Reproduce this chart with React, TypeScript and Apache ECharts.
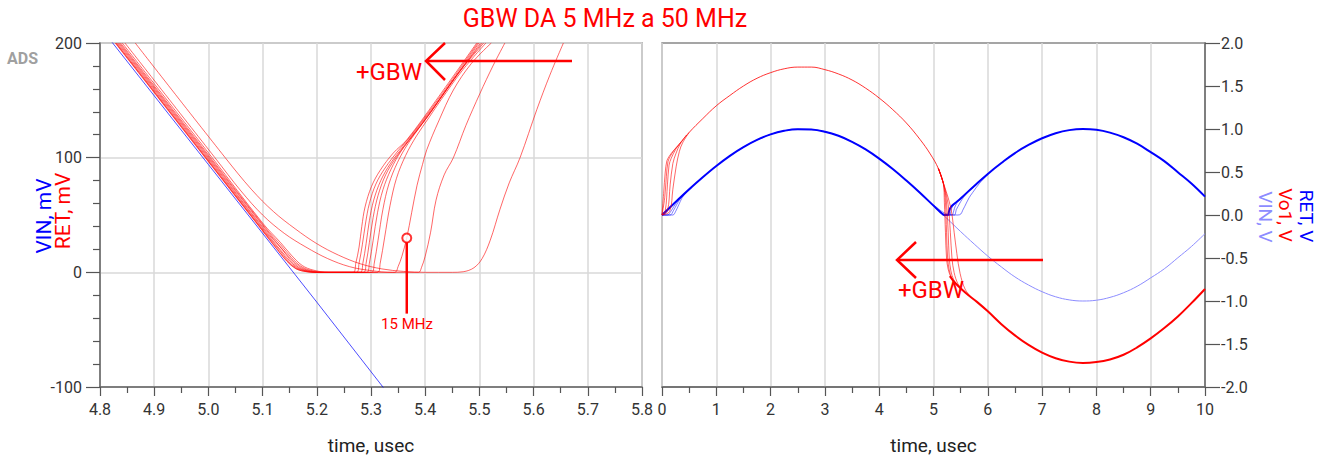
import React, { useEffect, useRef } from 'react';
import * as echarts from 'echarts';

// ---------- Left panel (time in usec, values in mV) ----------
const leftXTicks = { min: 4.8, max: 5.8, step: 0.1 };
const leftYTicks = { min: -100, max: 200, step: 100 };

const vinLeftMv: number[][] = [[4.8, 214], [5.0, 94], [5.2, -26], [5.35, -117]];

const ret50MHz: number[][] = [[4.828,200],[4.994,100],[5.10,36],[5.13,18],[5.145,9.5],[5.16,3.5],[5.175,1],[5.195,0],[5.267,0],[5.272,8],[5.278,22],[5.283,40],[5.289,57],[5.301,75],[5.317,89],[5.341,104],[5.366,115.5],[5.42,150],[5.495,200]];
const ret45MHz: number[][] = [[4.829,200],[4.995,100],[5.101,36],[5.131,18],[5.146,9.5],[5.161,3.5],[5.176,1],[5.197,0],[5.273,0],[5.278,8],[5.284,24],[5.290,43],[5.297,60],[5.309,77],[5.326,91],[5.350,106],[5.375,120],[5.43,155],[5.497,200]];
const ret40MHz: number[][] = [[4.830,200],[4.996,100],[5.102,36],[5.132,19],[5.147,10],[5.162,4],[5.178,1.2],[5.2,0],[5.280,0],[5.285,8],[5.291,25],[5.297,45],[5.305,63],[5.318,80],[5.336,95],[5.360,110],[5.385,125],[5.44,160],[5.499,200]];
const ret35MHz: number[][] = [[4.832,200],[4.998,100],[5.104,36],[5.134,19],[5.149,10.5],[5.164,4.2],[5.18,1.3],[5.203,0],[5.286,0],[5.291,8],[5.297,26],[5.304,48],[5.313,67],[5.327,85],[5.346,100],[5.370,115],[5.395,130],[5.45,166],[5.502,200]];
const ret30MHz: number[][] = [[4.834,200],[5.0,100],[5.106,36],[5.136,20],[5.151,11],[5.166,4.5],[5.182,1.4],[5.206,0],[5.292,0],[5.297,8],[5.304,28],[5.312,52],[5.322,72],[5.337,90],[5.356,106],[5.380,121],[5.405,136],[5.455,170],[5.505,200]];
const ret25MHz: number[][] = [[4.836,200],[5.002,100],[5.105,38],[5.135,21],[5.152,12],[5.168,5],[5.185,1.6],[5.21,0],[5.301,0],[5.306,8],[5.313,28],[5.322,55],[5.333,77],[5.349,96],[5.368,112],[5.392,128],[5.415,143],[5.46,173],[5.508,200]];
const ret20MHz: number[][] = [[4.838,200],[5.004,100],[5.105,39],[5.135,23],[5.153,13],[5.17,5.5],[5.188,1.8],[5.215,0],[5.312,0],[5.317,8],[5.325,30],[5.335,58],[5.347,82],[5.364,102],[5.384,119],[5.407,135],[5.43,151],[5.47,177],[5.512,200]];
const ret15MHz: number[][] = [[4.841,200],[5.007,100],[5.10,43],[5.133,26],[5.153,15],[5.173,6],[5.193,2],[5.222,0],[5.344,0],[5.350,5],[5.357,14],[5.366,30],[5.375,52],[5.385,76],[5.395,94],[5.403,107],[5.425,132],[5.452,159],[5.485,182],[5.522,200]];
const ret10MHz: number[][] = [[4.846,200],[5.012,100],[5.06,71],[5.10,50],[5.14,34],[5.18,22],[5.22,12],[5.26,5],[5.30,1.5],[5.34,0],[5.388,0],[5.393,4],[5.400,14],[5.410,35],[5.420,63],[5.435,85],[5.452,100],[5.475,128],[5.501,156],[5.525,180],[5.547,200]];
const ret5MHz: number[][] = [[4.865,200],[5.031,100],[5.08,72],[5.12,53],[5.16,38],[5.20,25],[5.24,15],[5.28,7.5],[5.32,3],[5.36,0.8],[5.40,0],[5.45,0],[5.47,0.5],[5.49,4],[5.505,12],[5.52,28],[5.538,55],[5.555,78],[5.575,100],[5.606,142],[5.63,172],[5.655,200]];
const retLeftCurves = [ret50MHz, ret45MHz, ret40MHz, ret35MHz, ret30MHz, ret25MHz, ret20MHz, ret15MHz, ret10MHz, ret5MHz];

const marker15MHz: number[] = [5.366, 30];
const marker15MHzStem: number[][] = [[5.366, 26.5], [5.366, -36]];

// ---------- Right panel (time in usec, values in V) ----------
const rightXTicks = { min: 0, max: 10, step: 1 };
const rightYTicks = { min: -2, max: 2, step: 0.5 };

const vinV: number[][] = [[0,0],[0.25,0.151],[0.5,0.299],[0.75,0.439],[1,0.57],[1.25,0.688],[1.5,0.789],[1.75,0.873],[2,0.937],[2.25,0.979],[2.5,0.998],[2.75,0.995],[3,0.969],[3.25,0.921],[3.5,0.851],[3.75,0.763],[4,0.656],[4.25,0.535],[4.5,0.401],[4.75,0.259],[5,0.109],[5.18,0],[5.25,-0.042],[5.5,-0.193],[5.75,-0.338],[6,-0.478],[6.25,-0.604],[6.5,-0.72],[6.75,-0.814],[7,-0.892],[7.25,-0.951],[7.5,-0.987],[7.75,-1.0],[8,-0.991],[8.25,-0.958],[8.5,-0.904],[8.75,-0.829],[9,-0.731],[9.25,-0.626],[9.5,-0.497],[9.75,-0.366],[10,-0.217]];

const retMain: number[][] = [[0,0],[0.25,0.151],[0.5,0.299],[0.75,0.439],[1,0.57],[1.25,0.688],[1.5,0.789],[1.75,0.873],[2,0.937],[2.25,0.979],[2.5,0.998],[2.75,0.995],[3,0.969],[3.25,0.921],[3.5,0.851],[3.75,0.763],[4,0.656],[4.25,0.535],[4.5,0.401],[4.75,0.259],[5,0.109],[5.1,0.05],[5.15,0.02],[5.2,0],[5.265,0],[5.29,0.055],[5.33,0.10],[5.4,0.14],[5.5,0.193],[5.75,0.338],[6,0.478],[6.25,0.604],[6.5,0.72],[6.75,0.814],[7,0.892],[7.25,0.951],[7.5,0.987],[7.75,1.0],[8,0.991],[8.25,0.958],[8.5,0.904],[8.75,0.829],[9,0.731],[9.25,0.626],[9.5,0.497],[9.75,0.366],[10,0.214]];
const retStartA: number[][] = [[0,0],[0.05,0.01],[0.12,0.06],[0.25,0.15],[0.4,0.24],[0.5,0.3]];
const retStartB: number[][] = [[0,0],[0.1,0],[0.16,0.04],[0.22,0.1],[0.3,0.17],[0.4,0.23],[0.5,0.295]];
const retStartC: number[][] = [[0,0],[0.15,0],[0.21,0.05],[0.27,0.12],[0.34,0.19],[0.45,0.26],[0.55,0.32]];
const retStartD: number[][] = [[0,0],[0.2,0],[0.25,0.04],[0.31,0.12],[0.37,0.2],[0.45,0.26],[0.55,0.32]];
const retDipA: number[][] = [[5.0,0.11],[5.15,0.02],[5.22,0],[5.30,0],[5.322,0.055],[5.349,0.096],[5.392,0.128],[5.46,0.173],[5.508,0.2],[5.6,0.25],[6,0.48]];
const retDipB: number[][] = [[5.0,0.11],[5.15,0.02],[5.25,0],[5.344,0],[5.366,0.03],[5.385,0.076],[5.403,0.107],[5.452,0.159],[5.522,0.2],[5.6,0.25],[5.75,0.34],[6,0.48]];
const retDipC: number[][] = [[5.0,0.11],[5.15,0.02],[5.3,0],[5.388,0],[5.41,0.035],[5.42,0.063],[5.452,0.10],[5.501,0.156],[5.547,0.2],[5.65,0.275],[5.8,0.36],[6,0.48]];
const retDipD: number[][] = [[5.0,0.12],[5.17,0.035],[5.3,0.004],[5.45,0],[5.505,0.012],[5.538,0.055],[5.575,0.10],[5.655,0.2],[5.72,0.26],[5.85,0.37],[6,0.47]];

const vo1Upper: number[][] = [[0.3,0.81],[0.5,0.96],[0.75,1.12],[1,1.27],[1.25,1.39],[1.5,1.5],[1.75,1.59],[2,1.655],[2.25,1.70],[2.5,1.72],[2.75,1.72],[3,1.69],[3.25,1.64],[3.5,1.57],[3.75,1.475],[4,1.36],[4.25,1.225],[4.5,1.07],[4.75,0.88],[4.94,0.71],[5.09,0.54],[5.18,0.37]];
const vo1Lower: number[][] = [[5.3,-0.71],[5.4,-0.79],[5.6,-0.91],[5.8,-1.01],[6.0,-1.12],[6.25,-1.27],[6.5,-1.40],[6.75,-1.51],[7.0,-1.6],[7.25,-1.665],[7.5,-1.705],[7.75,-1.72],[8.0,-1.71],[8.25,-1.68],[8.5,-1.625],[8.75,-1.54],[9.0,-1.435],[9.25,-1.315],[9.5,-1.18],[9.75,-1.025],[10,-0.86]];
const vo1StartA: number[][] = [[0,0],[0.03,0.25],[0.06,0.5],[0.09,0.63],[0.13,0.68],[0.2,0.74],[0.3,0.81]];
const vo1StartB: number[][] = [[0,0],[0.05,0.2],[0.08,0.45],[0.11,0.62],[0.15,0.68],[0.22,0.75],[0.3,0.81]];
const vo1StartC: number[][] = [[0,0],[0.06,0.05],[0.1,0.35],[0.13,0.58],[0.17,0.66],[0.25,0.76],[0.35,0.85]];
const vo1StartD: number[][] = [[0,0],[0.1,0.05],[0.15,0.35],[0.2,0.6],[0.26,0.72],[0.33,0.82],[0.45,0.93]];
const vo1StartE: number[][] = [[0,0],[0.14,0.04],[0.2,0.3],[0.26,0.56],[0.32,0.74],[0.38,0.84],[0.5,0.96]];
const vo1DropA: number[][] = [[5.09,0.54],[5.18,0.37],[5.2,0.15],[5.22,-0.2],[5.24,-0.5],[5.27,-0.63],[5.32,-0.72],[5.4,-0.79]];
const vo1DropB: number[][] = [[5.09,0.54],[5.18,0.37],[5.22,0.15],[5.24,-0.2],[5.26,-0.5],[5.29,-0.64],[5.34,-0.74],[5.42,-0.81]];
const vo1DropC: number[][] = [[5.09,0.54],[5.19,0.35],[5.24,0.14],[5.27,-0.2],[5.29,-0.5],[5.32,-0.65],[5.37,-0.75],[5.45,-0.83]];
const vo1DropD: number[][] = [[5.09,0.54],[5.2,0.33],[5.27,0.12],[5.31,-0.2],[5.34,-0.5],[5.38,-0.67],[5.45,-0.8],[5.55,-0.88]];
const vo1DropE: number[][] = [[5.09,0.54],[5.21,0.32],[5.32,0.08],[5.38,-0.2],[5.43,-0.45],[5.49,-0.68],[5.58,-0.86],[5.7,-0.96]];

// ---------- Texts ----------
const titleText = 'GBW DA 5 MHz a 50 MHz';
const xName = 'time, usec';

const FONT = 'Roboto';
const RED = '#ff0000';
const BLUE = '#0000ff';
const LIGHT = '#8c8cff';

function lineSeries(data: number[][], axis: number, color: string, width: number, z = 2, smooth = 0.35) {
  return {
    type: 'line', xAxisIndex: axis, yAxisIndex: axis, data,
    showSymbol: false, symbol: 'none', smooth, silent: true, clip: true, z,
    lineStyle: { color, width }, itemStyle: { color },
  };
}

function xAxisCfg(grid: number, t: { min: number; max: number; step: number }, fmt: (v: number) => string) {
  return {
    type: 'value', gridIndex: grid, min: t.min, max: t.max, interval: t.step,
    name: xName, nameLocation: 'middle', nameGap: 49,
    nameTextStyle: { fontSize: 19, color: '#222', fontFamily: FONT },
    axisLine: { show: true, onZero: false, lineStyle: { color: '#666', width: 1.5 } },
    axisTick: { show: true, length: 9, lineStyle: { color: '#555', width: 1.2 } },
    minorTick: { show: true, splitNumber: 2, length: 6, lineStyle: { color: '#555', width: 1.2 } },
    splitLine: { show: true, lineStyle: { color: '#d9d9d9', width: 1.5 } },
    axisLabel: { fontSize: 16, color: '#333', margin: 14, fontFamily: FONT, formatter: fmt, showMinLabel: true, showMaxLabel: true },
  };
}

export default function App() {
  const ref = useRef<HTMLDivElement>(null);
  useEffect(() => {
    const chart = echarts.init(ref.current as HTMLDivElement, null, { renderer: 'svg' });
    const leftSeries = retLeftCurves.map((c) => lineSeries(c, 0, 'rgba(255,0,0,0.6)', 1, 3, 0.35));
    const dim = 'rgba(0,0,255,0.5)';
    const dimRed = 'rgba(255,0,0,0.6)';
    const option: any = {
      animation: false,
      backgroundColor: '#ffffff',
      textStyle: { fontFamily: FONT },
      grid: [
        { left: 100, top: 43, width: 542, height: 344, show: true, borderColor: '#888', borderWidth: 1.5 },
        { left: 662, top: 43, width: 543, height: 344, show: true, borderColor: '#888', borderWidth: 1.5 },
      ],
      xAxis: [
        xAxisCfg(0, leftXTicks, (v: number) => v.toFixed(1)),
        xAxisCfg(1, rightXTicks, (v: number) => String(Math.round(v))),
      ],
      yAxis: [
        {
          type: 'value', gridIndex: 0, min: leftYTicks.min, max: leftYTicks.max, interval: leftYTicks.step,
          axisLine: { show: true, onZero: false, lineStyle: { color: '#666', width: 1.5 } },
          axisTick: { show: true, length: 14, lineStyle: { color: '#555', width: 1.2 } },
          minorTick: { show: true, splitNumber: 5, length: 7, lineStyle: { color: '#555', width: 1.2 } },
          splitLine: { show: true, lineStyle: { color: '#d9d9d9', width: 1.5 } },
          axisLabel: { fontSize: 16, color: '#333', margin: 18, fontFamily: FONT },
        },
        {
          type: 'value', gridIndex: 1, position: 'right', min: rightYTicks.min, max: rightYTicks.max, interval: rightYTicks.step,
          axisLine: { show: true, onZero: false, lineStyle: { color: '#666', width: 1.5 } },
          axisTick: { show: true, length: 15, lineStyle: { color: '#555', width: 1.2 } },
          splitLine: { show: false },
          axisLabel: { fontSize: 16, color: '#333', margin: 16, fontFamily: FONT, formatter: (v: number) => v.toFixed(1) },
        },
      ],
      series: [
        lineSeries(vinLeftMv, 0, 'rgba(0,0,255,0.7)', 1, 2, 0),
        ...leftSeries,
        {
          type: 'line', xAxisIndex: 0, yAxisIndex: 0, data: marker15MHzStem, showSymbol: false, symbol: 'none',
          lineStyle: { color: RED, width: 2.5 }, silent: true, clip: false, z: 5,
        },
        {
          type: 'scatter', xAxisIndex: 0, yAxisIndex: 0, data: [marker15MHz], symbol: 'circle', symbolSize: 9,
          itemStyle: { color: '#ffffff', borderColor: RED, borderWidth: 2 }, silent: true, z: 6,
        },
        // right panel
        lineSeries(vinV, 1, LIGHT, 1, 2, 0.4),
        lineSeries(retStartA, 1, dim, 1, 3),
        lineSeries(retStartB, 1, dim, 1, 3),
        lineSeries(retStartC, 1, dim, 1, 3),
        lineSeries(retStartD, 1, dim, 1, 3),
        lineSeries(retDipA, 1, dim, 1, 3),
        lineSeries(retDipB, 1, dim, 1, 3),
        lineSeries(retDipC, 1, dim, 1, 3),
        lineSeries(retDipD, 1, dim, 1, 3),
        lineSeries(retMain, 1, BLUE, 2, 4, 0.4),
        lineSeries(vo1Upper, 1, 'rgba(255,0,0,0.8)', 1, 5, 0.4),
        lineSeries(vo1Lower, 1, RED, 2, 5, 0.4),
        lineSeries(vo1StartA, 1, dimRed, 1, 5),
        lineSeries(vo1StartB, 1, dimRed, 1, 5),
        lineSeries(vo1StartC, 1, dimRed, 1, 5),
        lineSeries(vo1StartD, 1, dimRed, 1, 5),
        lineSeries(vo1StartE, 1, dimRed, 1, 5),
        lineSeries(vo1DropA, 1, dimRed, 1, 5),
        lineSeries(vo1DropB, 1, dimRed, 1, 5),
        lineSeries(vo1DropC, 1, dimRed, 1, 5),
        lineSeries(vo1DropD, 1, dimRed, 1, 5),
        lineSeries(vo1DropE, 1, dimRed, 1, 5),
      ],
      graphic: [
        { type: 'text', x: 605, y: 18, z: 10, style: { text: titleText, fill: RED, fontSize: 25, fontFamily: FONT, align: 'center', verticalAlign: 'middle' } },
        { type: 'text', x: 7, y: 58, z: 10, style: { text: 'ADS', fill: '#a0a0a0', fontSize: 16, fontWeight: 'bold', fontFamily: FONT, verticalAlign: 'middle' } },
        { type: 'text', x: 44, y: 216, rotation: Math.PI / 2, z: 10, style: { text: 'VIN, mV', fill: BLUE, fontSize: 21, fontFamily: FONT, align: 'center', verticalAlign: 'middle' } },
        { type: 'text', x: 63, y: 211, rotation: Math.PI / 2, z: 10, style: { text: 'RET, mV', fill: RED, fontSize: 21, fontFamily: FONT, align: 'center', verticalAlign: 'middle' } },
        { type: 'text', x: 1306, y: 216, rotation: -Math.PI / 2, z: 10, style: { text: 'RET, V', fill: BLUE, fontSize: 19, fontFamily: FONT, align: 'center', verticalAlign: 'middle' } },
        { type: 'text', x: 1285, y: 215, rotation: -Math.PI / 2, z: 10, style: { text: 'Vo1, V', fill: RED, fontSize: 19, fontFamily: FONT, align: 'center', verticalAlign: 'middle' } },
        { type: 'text', x: 1265, y: 217, rotation: -Math.PI / 2, z: 10, style: { text: 'VIN, V', fill: LIGHT, fontSize: 19, fontFamily: FONT, align: 'center', verticalAlign: 'middle' } },
        // left +GBW arrow
        { type: 'line', z: 10, shape: { x1: 426, y1: 61, x2: 572, y2: 61 }, style: { stroke: RED, lineWidth: 2.5 } },
        { type: 'polyline', z: 10, shape: { points: [[445, 43], [426, 61], [445, 80]] }, style: { stroke: RED, lineWidth: 2.5, fill: 'none' } },
        { type: 'text', x: 389, y: 72, z: 10, style: { text: '+GBW', fill: RED, fontSize: 24, fontFamily: FONT, align: 'center', verticalAlign: 'middle' } },
        // right +GBW arrow
        { type: 'line', z: 10, shape: { x1: 897, y1: 260, x2: 1043, y2: 260 }, style: { stroke: RED, lineWidth: 2.5 } },
        { type: 'polyline', z: 10, shape: { points: [[916, 242], [897, 260], [916, 278]] }, style: { stroke: RED, lineWidth: 2.5, fill: 'none' } },
        { type: 'text', x: 931, y: 290, z: 10, style: { text: '+GBW', fill: RED, fontSize: 24, fontFamily: FONT, align: 'center', verticalAlign: 'middle' } },
        // 15 MHz label
        { type: 'text', x: 407, y: 324, z: 10, style: { text: '15 MHz', fill: RED, fontSize: 15, fontFamily: FONT, align: 'center', verticalAlign: 'middle' } },
      ],
    };
    chart.setOption(option);
    return () => chart.dispose();
  }, []);
  return <div ref={ref} style={{ position: 'absolute', left: 0, top: 0, width: 1326, height: 463 }} />;
}
